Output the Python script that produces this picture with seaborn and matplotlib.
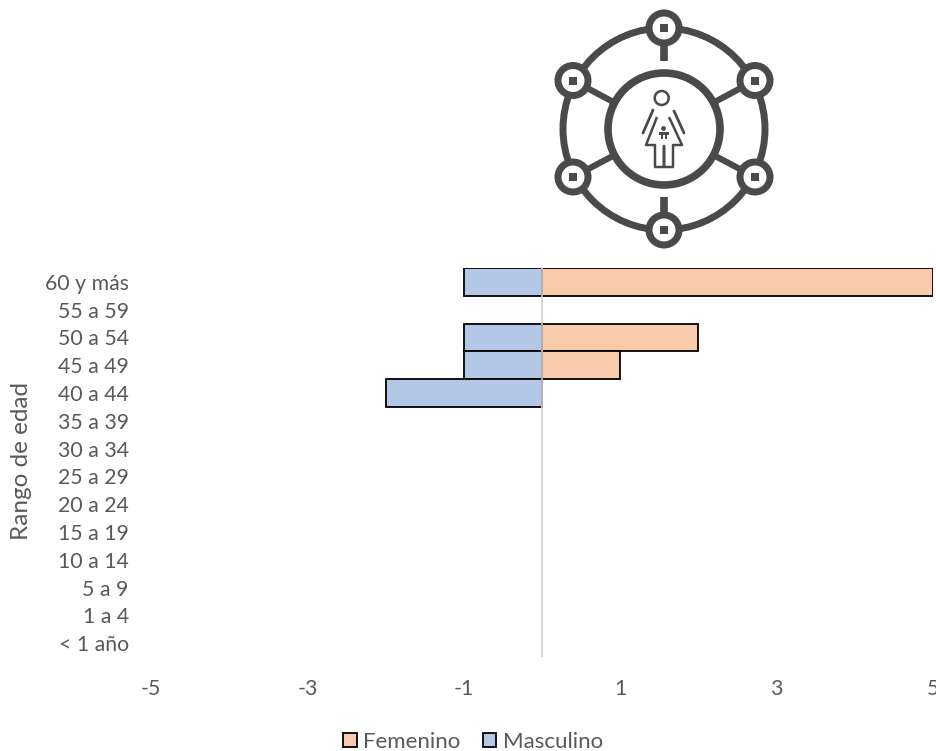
import numpy as np
import pandas as pd
import matplotlib
matplotlib.use("Agg")
import matplotlib.pyplot as plt
from matplotlib.patches import Circle, Rectangle, Polygon
import seaborn as sns

age_groups = ["60 y más", "55 a 59", "50 a 54", "45 a 49", "40 a 44", "35 a 39", "30 a 34",
              "25 a 29", "20 a 24", "15 a 19", "10 a 14", "5 a 9", "1 a 4", "< 1 año"]
femenino = [5, np.nan, 2, 1, np.nan, np.nan, np.nan, np.nan, np.nan, np.nan, np.nan, np.nan, np.nan, np.nan]
masculino = [-1, np.nan, -1, -1, -2, np.nan, np.nan, np.nan, np.nan, np.nan, np.nan, np.nan, np.nan, np.nan]
x_ticks = [-5, -3, -1, 1, 3, 5]

W, H = 936, 751
sns.set_theme(style="white")
plt.rcParams["font.family"] = ["Lato", "DejaVu Sans"]
TEXT = "#595959"

df = pd.DataFrame({
    "Rango": age_groups * 2,
    "Valor": femenino + masculino,
    "Sexo": ["Femenino"] * 14 + ["Masculino"] * 14,
})

fig = plt.figure(figsize=(W / 100, H / 100), dpi=100, facecolor="white")
ax = fig.add_axes([151 / W, 1 - 657 / H, (933 - 151) / W, (657 - 268) / H])
sns.barplot(data=df, y="Rango", x="Valor", hue="Sexo", order=age_groups, dodge=False,
            palette={"Femenino": "#F8CBAD", "Masculino": "#B4C7E7"}, width=1.0, saturation=1,
            edgecolor="black", linewidth=1.3, errorbar=None, ax=ax, legend=True, orient="h")
ax.set_xlim(-5, 5)
ax.set_ylim(13.5, -0.5)
ax.set_xticks(x_ticks)
ax.set_xticklabels([str(v) for v in x_ticks])
for s in ax.spines.values():
    s.set_visible(False)
ax.axvline(0, color="#D0D0D0", lw=1.2, zorder=5)
ax.tick_params(axis="y", length=0, pad=16, labelsize=15.3, labelcolor=TEXT)
ax.tick_params(axis="x", length=0, pad=16, labelsize=15.3, labelcolor=TEXT)
ax.set_xlabel("")
ax.set_ylabel("")
fig.text(21.5 / W, 1 - 461 / H, "Rango de edad", rotation=90, ha="center", va="center",
         fontsize=17.5, color=TEXT)

handles, labels = ax.get_legend_handles_labels()
ax.get_legend().remove()
leg = fig.legend(handles, labels, loc="center", bbox_to_anchor=(473 / W, 1 - 742 / H), ncol=2,
                 frameon=False, fontsize=16, labelcolor=TEXT, handlelength=0.62, handleheight=0.62,
                 handletextpad=0.3, columnspacing=1.0, borderpad=0)

# Icon overlay in pixel coordinates
ov = fig.add_axes([0, 0, 1, 1], zorder=3)
ov.set_xlim(0, W)
ov.set_ylim(H, 0)
ov.axis("off")
ov.patch.set_alpha(0)
C = "#4A4A48"
cx, cy = 664, 129
ov.add_patch(Circle((cx, cy), 101, fill=False, ec=C, lw=5))
nodes = [(cx, 28), (755, 80.5), (755, 177), (cx, 230), (573, 177), (573, 80.5)]
# spokes
ov.plot([cx, cx], [28, 61], color=C, lw=5.5, solid_capstyle="butt")
ov.plot([cx, cx], [197, 230], color=C, lw=5.5, solid_capstyle="butt")
for nx, ny in nodes[1:3] + nodes[4:]:
    d = np.array([nx - cx, ny - cy], float)
    d /= np.hypot(*d)
    ov.plot([cx + d[0] * 55, nx], [cy + d[1] * 55, ny], color=C, lw=4.5, solid_capstyle="butt")
ov.add_patch(Circle((cx, cy), 56, fc="white", ec=C, lw=5.5, zorder=3))
for nx, ny in nodes:
    ov.add_patch(Circle((nx, ny), 18.5, fc=C, ec="none", zorder=4))
    ov.add_patch(Circle((nx, ny), 11.5, fc="white", ec="none", zorder=5))
    ov.add_patch(Rectangle((nx - 4, ny - 4), 8, 8, fc=C, ec="none", zorder=6))
# woman figure
ov.add_patch(Circle((661.7, 98), 7, fill=False, ec=C, lw=1.8, zorder=7))
ov.add_patch(Polygon([(657, 117), (646, 145), (655, 145), (655, 167), (664, 167), (664, 146),
                      (664, 167), (673, 167), (673, 145), (682, 145), (669, 117)],
                     closed=False, fill=False, ec=C, lw=1.8, joinstyle="round", zorder=7))
ov.plot([653, 643], [110, 133], color=C, lw=2, zorder=7)
ov.plot([674, 684], [111, 133], color=C, lw=2, zorder=7)
ov.add_patch(Circle((663.5, 128.5), 2.4, fc=C, ec="none", zorder=7))
ov.add_patch(Rectangle((658.5, 131.5), 10, 3, fc=C, ec="none", zorder=7))
ov.add_patch(Rectangle((660.5, 134), 2.4, 5, fc=C, ec="none", zorder=7))
ov.add_patch(Rectangle((664.5, 134), 2.4, 5, fc=C, ec="none", zorder=7))

fig.savefig("out.png", dpi=100)
